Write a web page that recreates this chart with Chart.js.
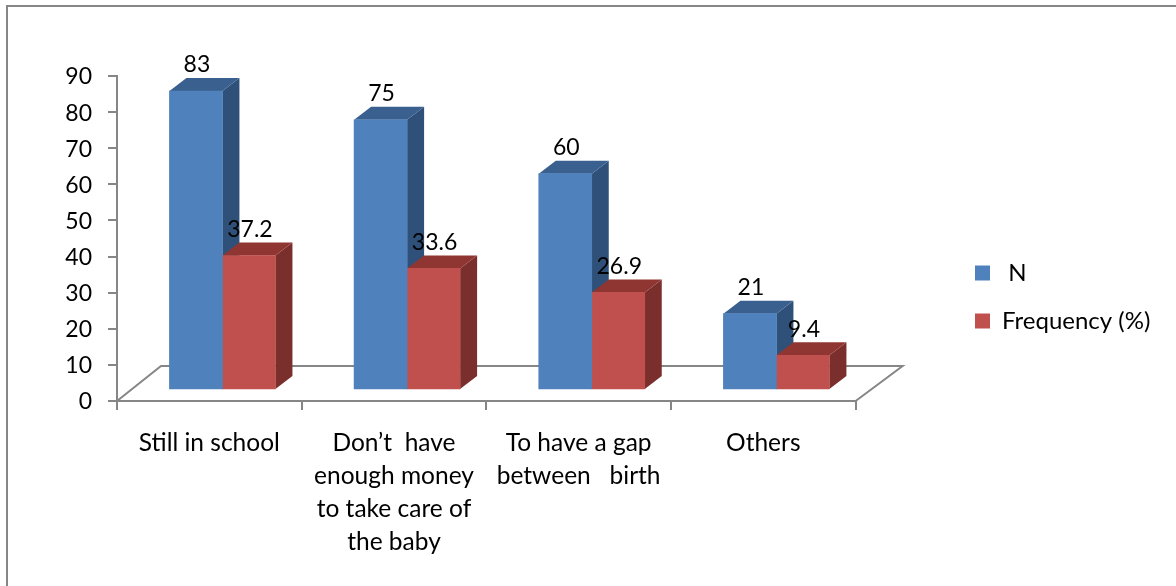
<!DOCTYPE html>
<html>
<head>
<meta charset="utf-8">
<script src="https://cdn.jsdelivr.net/npm/chart.js@4"></script>
<style>
  html, body { margin: 0; padding: 0; background: #fff; }
  #wrap { position: relative; width: 1176px; height: 586px; overflow: hidden; }
  #frame { position: absolute; left: 6px; top: 5px; width: 1180px; height: 600px; border: 2px solid #868686; box-sizing: border-box; }
  canvas { position: absolute; left: 0; top: 0; }
</style>
</head>
<body>
<div id="wrap">
  <div id="frame"></div>
  <canvas id="grafico" width="1176" height="586"></canvas>
</div>
<script>
// Data
const categorias = [
  'Still in school',
  ['Don\u2019t  have', 'enough money', 'to take care of', 'the baby'],
  ['To have a gap', 'between   birth'],
  'Others'
];
const valoresN = [83, 75, 60, 21];
const valoresFreq = [37.2, 33.6, 26.9, 9.4];
const nomes = [' N', 'Frequency (%)'];

const fonte = 'Lato, sans-serif';
const corEixo = '#868686';
const profX = 17, profY = 13;  // profundidade do efeito 3D

// pares x/y para o eixo linear escondido das barras
const pontos = (vals) => vals.map((v, i) => ({ x: i, y: v }));

// Faces 3D, chão e rótulos
const barras3d = {
  id: 'barras3d',
  afterLayout(chart) {
    // legenda fica fora da posição automática
    const l = chart.legend;
    const w = l.right - l.left, h = l.bottom - l.top;
    l.left = 951; l.right = 951 + w;
    l.top = 237; l.bottom = 237 + h;
  },
  beforeDatasetsDraw(chart) {
    const { ctx, chartArea: a } = chart;
    const fundoY = a.bottom - 35;
    ctx.save();
    ctx.strokeStyle = corEixo;
    ctx.lineWidth = 2;
    ctx.beginPath();
    ctx.moveTo(a.left, a.bottom);
    ctx.lineTo(a.left + 44, fundoY);
    ctx.lineTo(a.right + 47, fundoY);
    ctx.lineTo(a.right, a.bottom);
    ctx.stroke();

    const cores = [
      { lado: '#2f5078', topo: '#3a6090' },
      { lado: '#7a2f2d', topo: '#8f3633' },
    ];
    // uma categoria de cada vez, azul antes do vermelho
    categorias.forEach((_, i) => {
      chart.data.datasets.forEach((ds, d) => {
        const b = chart.getDatasetMeta(d).data[i];
        const esq = b.x - b.width / 2, dir = b.x + b.width / 2;
        ctx.fillStyle = cores[d].lado;
        ctx.beginPath();
        ctx.moveTo(dir, b.y);
        ctx.lineTo(dir + profX, b.y - profY);
        ctx.lineTo(dir + profX, b.base - profY);
        ctx.lineTo(dir, b.base);
        ctx.closePath();
        ctx.fill();
        ctx.fillStyle = cores[d].topo;
        ctx.beginPath();
        ctx.moveTo(esq, b.y);
        ctx.lineTo(esq + profX, b.y - profY);
        ctx.lineTo(dir + profX, b.y - profY);
        ctx.lineTo(dir, b.y);
        ctx.closePath();
        ctx.fill();
      });
    });
    ctx.restore();
  },
  afterDatasetsDraw(chart) {
    const { ctx } = chart;
    ctx.save();
    ctx.fillStyle = '#000';
    ctx.font = '23px ' + fonte;
    ctx.textAlign = 'center';
    ctx.textBaseline = 'middle';
    chart.data.datasets.forEach((ds, d) => {
      chart.getDatasetMeta(d).data.forEach((b, i) => {
        ctx.fillText(String(ds.data[i].y), b.x + 1, b.y - 26);
      });
    });
    ctx.restore();
  }
};

new Chart(document.getElementById('grafico'), {
  type: 'bar',
  data: {
    labels: categorias,
    datasets: [
      { label: nomes[0], data: pontos(valoresN), backgroundColor: '#4f81bd', xAxisID: 'xBarras', yAxisID: 'yBarras', barThickness: 53 },
      { label: nomes[1], data: pontos(valoresFreq), backgroundColor: '#c0504d', xAxisID: 'xBarras', yAxisID: 'yBarras', barThickness: 53 },
    ]
  },
  plugins: [barras3d],
  options: {
    responsive: false,
    animation: false,
    layout: { padding: { top: 76, left: 0, right: 111, bottom: 0 } },
    plugins: {
      tooltip: { enabled: false },
      legend: {
        position: 'right',
        align: 'start',
        labels: {
          color: '#000',
          boxWidth: 15, boxHeight: 15, padding: 24,
          font: { family: fonte, size: 24 }
        }
      }
    },
    scales: {
      x: {
        type: 'category',
        grid: { drawOnChartArea: false, color: corEixo, lineWidth: 2, tickLength: 9 },
        border: { color: corEixo, width: 2 },
        ticks: { color: '#000', font: { family: fonte, size: 24.5, lineHeight: 1.347 }, padding: 17, maxRotation: 0, autoSkip: false },
        afterFit(s) { s.height = 185; }
      },
      y: {
        min: 0, max: 90,
        grid: { drawOnChartArea: false, color: corEixo, lineWidth: 2, tickLength: 9 },
        border: { color: corEixo, width: 2 },
        ticks: { stepSize: 10, color: '#000', font: { family: fonte, size: 23 }, padding: 16, labelOffset: 1 },
        afterFit(s) { s.width = 117; }
      },
      // escalas escondidas: as barras ficam deslocadas em relação aos eixos
      xBarras: { type: 'linear', display: false, offset: false, min: -0.571, max: 3.429 },
      yBarras: { type: 'linear', display: false, min: -3.34, max: 87.2 }
    }
  }
});
</script>
</body>
</html>
